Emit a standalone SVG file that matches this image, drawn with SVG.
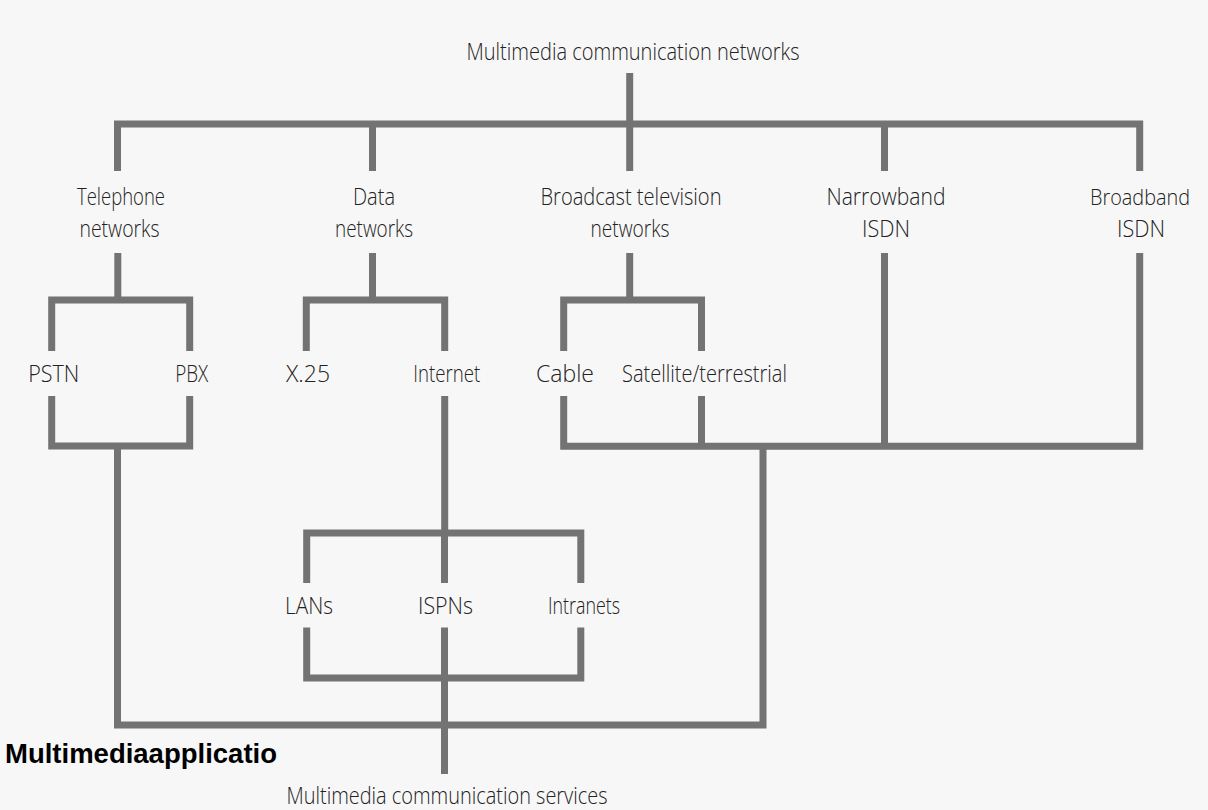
<svg xmlns="http://www.w3.org/2000/svg" width="1208" height="810" viewBox="0 0 1208 810">
  <style>
    .lbl { font-family: "Open Sans", "Liberation Sans", sans-serif; font-weight: 300; font-size: 24px; fill: #222; text-anchor: middle; }
    .lbl.start { text-anchor: start; font-size: 22px; }
    .cap { font-family: "Liberation Sans", Arial, sans-serif; font-weight: bold; font-size: 27.5px; fill: #000; }
    .wire { fill: none; stroke: #737373; stroke-width: 7; stroke-linecap: butt; stroke-linejoin: miter; }
  </style>
  <rect x="0" y="0" width="1208" height="810" fill="#f7f7f7"/>

  <!-- connectors -->
  <g id="connectors" class="wire">
    <!-- root to first level -->
    <path d="M629.7,73 V171"/>
    <path d="M117.5,171 V124 H1139.7 V171"/>
    <path d="M372.5,124 V171"/>
    <path d="M884.5,124 V171"/>
    <!-- telephone networks -->
    <path d="M117.8,253 V300"/>
    <path d="M51.7,351 V300 H189.7 V351"/>
    <path d="M51.7,396 V446 H189.7 V396"/>
    <!-- data networks -->
    <path d="M372.5,253 V300"/>
    <path d="M306.3,351 V300 H444.7 V351"/>
    <path d="M444.7,396 V533"/>
    <!-- broadcast television networks -->
    <path d="M629.7,253 V300"/>
    <path d="M563.7,351 V300 H701.5 V351"/>
    <path d="M563.7,396 V446.3 H1139.7 V253"/>
    <path d="M701.5,396 V446.3"/>
    <path d="M884.5,253 V446.3"/>
    <!-- internet branches -->
    <path d="M306.7,583 V533 H580.8 V583"/>
    <path d="M444.5,533 V583"/>
    <path d="M306.7,627.5 V678 H580.8 V627.5"/>
    <path d="M444.5,627.5 V774"/>
    <!-- collecting bus to services -->
    <path d="M117.5,446 V725 H763 V446.3"/>
  </g>

  <g id="n-networks"><text class="lbl" x="633" y="60" textLength="333" lengthAdjust="spacingAndGlyphs">Multimedia communication networks</text></g>

  <g id="n-telephone">
    <text class="lbl" x="121" y="205" textLength="88" lengthAdjust="spacingAndGlyphs">Telephone</text>
    <text class="lbl" x="119.5" y="237" textLength="80" lengthAdjust="spacingAndGlyphs">networks</text>
  </g>
  <g id="n-data">
    <text class="lbl" x="374" y="205" textLength="42" lengthAdjust="spacingAndGlyphs">Data</text>
    <text class="lbl" x="374" y="237" textLength="78" lengthAdjust="spacingAndGlyphs">networks</text>
  </g>
  <g id="n-broadcast">
    <text class="lbl" x="631" y="205" textLength="181" lengthAdjust="spacingAndGlyphs">Broadcast television</text>
    <text class="lbl" x="630" y="237" textLength="79" lengthAdjust="spacingAndGlyphs">networks</text>
  </g>
  <g id="n-narrowband">
    <text class="lbl" x="886" y="205" textLength="119" lengthAdjust="spacingAndGlyphs">Narrowband</text>
    <text class="lbl" x="886" y="237" textLength="48" lengthAdjust="spacingAndGlyphs">ISDN</text>
  </g>
  <g id="n-broadband">
    <text class="lbl start" x="1090" y="205" textLength="100" lengthAdjust="spacingAndGlyphs">Broadband</text>
    <text class="lbl" x="1141" y="237" textLength="48" lengthAdjust="spacingAndGlyphs">ISDN</text>
  </g>

  <g id="n-pstn"><text class="lbl" x="53.7" y="382" textLength="51" lengthAdjust="spacingAndGlyphs">PSTN</text></g>
  <g id="n-pbx"><text class="lbl" x="191.7" y="382" textLength="33" lengthAdjust="spacingAndGlyphs">PBX</text></g>
  <g id="n-x25"><text class="lbl" x="308" y="382" textLength="44" lengthAdjust="spacingAndGlyphs">X.25</text></g>
  <g id="n-internet"><text class="lbl" x="446.7" y="382" textLength="67" lengthAdjust="spacingAndGlyphs">Internet</text></g>
  <g id="n-cable"><text class="lbl" x="565" y="382" textLength="58" lengthAdjust="spacingAndGlyphs">Cable</text></g>
  <g id="n-satellite"><text class="lbl" x="704.5" y="382" textLength="165" lengthAdjust="spacingAndGlyphs">Satellite/terrestrial</text></g>

  <g id="n-lans"><text class="lbl" x="309" y="614" textLength="48" lengthAdjust="spacingAndGlyphs">LANs</text></g>
  <g id="n-ispns"><text class="lbl" x="445.5" y="614" textLength="55" lengthAdjust="spacingAndGlyphs">ISPNs</text></g>
  <g id="n-intranets"><text class="lbl" x="584" y="614" textLength="72" lengthAdjust="spacingAndGlyphs">Intranets</text></g>

  <g id="n-services"><text class="lbl" x="447" y="804" textLength="321" lengthAdjust="spacingAndGlyphs">Multimedia communication services</text></g>

  <g id="caption"><text class="cap" x="5" y="763">Multimediaapplicatio</text></g>
</svg>
